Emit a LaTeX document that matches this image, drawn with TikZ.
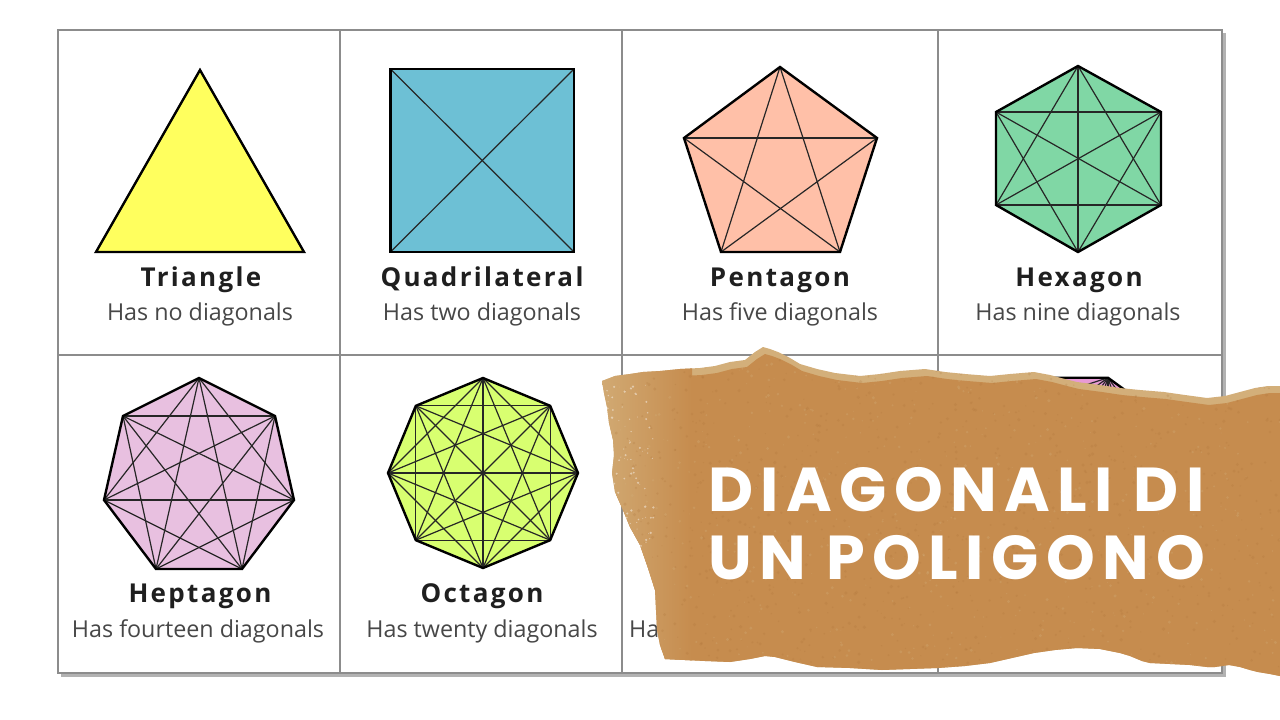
\documentclass[tikz,border=0pt]{standalone}
\usepackage{fontspec}
\setmainfont{Open Sans}
\newfontfamily\ttlfont[LetterSpace=9]{Open Sans}
\newfontfamily\bannerfont[LetterSpace=12]{Poppins}
\definecolor{ctri}{HTML}{FFFF5E}
\definecolor{cquad}{HTML}{6DC0D5}
\definecolor{cpent}{HTML}{FFC0A8}
\definecolor{chex}{HTML}{80D7A5}
\definecolor{chept}{HTML}{E8C0E0}
\definecolor{coct}{HTML}{D8FF70}
\definecolor{cdec}{HTML}{E89AD6}
\definecolor{paper}{HTML}{C68C4E}
\definecolor{paperlight}{HTML}{D3AF7A}
\definecolor{paperdark}{HTML}{A86E35}
\newcommand{\polydiag}[2]{%
  \foreach \ii in {1,...,#2}{%
    \foreach \jj in {1,...,#2}{%
      \pgfmathtruncatemacro{\mydiff}{\jj-\ii}%
      \ifnum\mydiff>1 \ifnum\mydiff<\numexpr#2-1\relax
        \draw[diag] (#1\ii) -- (#1\jj);
      \fi\fi
    }}}
\newcommand{\paperpath}{(602,381) -- (615,376) -- (630,374) -- (643,372) -- (660,371) -- (680,369) -- (700,368) -- (715,366) -- (730,362) -- (745,360) -- (755,352) -- (763,347) -- (770,349) -- (778,352) -- (790,358) -- (800,364) -- (817,369) -- (835,373) -- (860,376) -- (880,374) -- (900,371) -- (925,369) -- (945,372) -- (965,374) -- (990,376) -- (1010,374) -- (1034,372) -- (1050,375) -- (1065,379) -- (1077,382) -- (1100,385) -- (1120,388) -- (1140,390) -- (1164,392) -- (1185,395) -- (1207,398) -- (1225,396) -- (1240,392) -- (1255,388) -- (1268,386) -- (1280,386) -- (1280,676) -- (1270,674) -- (1258,672) -- (1250,670) -- (1240,667) -- (1229,665) -- (1215,667) -- (1207,667) -- (1190,665) -- (1170,664) -- (1150,663) -- (1142,661) -- (1130,656) -- (1120,653) -- (1100,649) -- (1077,648) -- (1055,650) -- (1034,653) -- (1012,658) -- (990,663) -- (965,666) -- (938,668) -- (910,669) -- (882,670) -- (850,668) -- (817,667) -- (795,662) -- (775,657) -- (765,656) -- (750,659) -- (730,662) -- (705,661) -- (685,660) -- (665,659) -- (660,645) -- (657,630) -- (656,610) -- (655,590) -- (648,568) -- (640,545) -- (630,527) -- (623,510) -- (615,492) -- (612,473) -- (614,455) -- (613,440) -- (609,423) -- (607,407) -- (604,393) -- cycle}
\begin{document}
\begin{tikzpicture}[x=1pt,y=-1pt]
\tikzset{
 gridline/.style={draw=black!45, line width=1.2pt},
 shapeedge/.style={draw=black, line width=2.4pt, line join=miter},
 diag/.style={draw=black!85, line width=1.2pt},
 ttl/.style={anchor=base, text=black!88, font=\ttlfont\bfseries\fontsize{26}{30}\selectfont, inner sep=0pt},
 sub/.style={anchor=base, text=black!72, font=\fontsize{23.3}{28}\selectfont, inner sep=0pt},
 banner/.style={anchor=base west, text=white, font=\bannerfont\bfseries\fontsize{62}{70}\selectfont, inner sep=0pt},
}
\useasboundingbox (0,0) rectangle (1280,720);
\fill[white] (0,0) rectangle (1280,720);
% grid with shadow
\fill[black!30] (61,33) rectangle (1226,677);
\fill[white] (58,30) rectangle (1222,673);
\draw[gridline] (58,30) rectangle (1222,673);
\draw[gridline] (58,355) -- (1222,355);
\draw[gridline] (340,30) -- (340,673);
\draw[gridline] (622,30) -- (622,673);
\draw[gridline] (938,30) -- (938,673);

% triangle
\coordinate (t1) at (200,70);
\coordinate (t2) at (304,252);
\coordinate (t3) at (96,252);
\path[fill=ctri] (t1) -- (t2) -- (t3) -- cycle;
\draw[shapeedge] (t1) -- (t2) -- (t3) -- cycle;

% square
\coordinate (q1) at (390.5,69);
\coordinate (q2) at (574,69);
\coordinate (q3) at (574,252);
\coordinate (q4) at (390.5,252);
\path[fill=cquad] (q1) -- (q2) -- (q3) -- (q4) -- cycle;
\polydiag{q}{4}
\draw[shapeedge] (q1) -- (q2) -- (q3) -- (q4) -- cycle;

% pentagon
\coordinate (p1) at (780,67);
\coordinate (p2) at (877,138);
\coordinate (p3) at (840,252);
\coordinate (p4) at (721,252);
\coordinate (p5) at (684,138);
\path[fill=cpent] (p1) -- (p2) -- (p3) -- (p4) -- (p5) -- cycle;
\polydiag{p}{5}
\draw[shapeedge] (p1) -- (p2) -- (p3) -- (p4) -- (p5) -- cycle;

% hexagon
\coordinate (x1) at (1078,66);
\coordinate (x2) at (1161,112);
\coordinate (x3) at (1161,205);
\coordinate (x4) at (1078,252);
\coordinate (x5) at (996,205);
\coordinate (x6) at (996,112);
\path[fill=chex] (x1) -- (x2) -- (x3) -- (x4) -- (x5) -- (x6) -- cycle;
\polydiag{x}{6}
\draw[shapeedge] (x1) -- (x2) -- (x3) -- (x4) -- (x5) -- (x6) -- cycle;

% heptagon
\coordinate (s1) at (199,378);
\coordinate (s2) at (275,416);
\coordinate (s3) at (294,500);
\coordinate (s4) at (242,569);
\coordinate (s5) at (156,569);
\coordinate (s6) at (104,500);
\coordinate (s7) at (123,416);
\path[fill=chept] (s1) -- (s2) -- (s3) -- (s4) -- (s5) -- (s6) -- (s7) -- cycle;
\polydiag{s}{7}
\draw[shapeedge] (s1) -- (s2) -- (s3) -- (s4) -- (s5) -- (s6) -- (s7) -- cycle;

% octagon
\foreach \k in {1,...,8}{
  \coordinate (o\k) at ({483+95*cos(90-45*(\k-1))},{473-95*sin(90-45*(\k-1))});
}
\path[fill=coct] (o1) \foreach \k in {2,...,8}{ -- (o\k) } -- cycle;
\polydiag{o}{8}
\draw[shapeedge] (o1) \foreach \k in {2,...,8}{ -- (o\k) } -- cycle;

% decagon (mostly hidden)
\foreach \k in {1,...,10}{
  \coordinate (d\k) at ({1078+97*cos(108-36*(\k-1))},{470-97*sin(108-36*(\k-1))});
}
\path[fill=cdec] (d1) \foreach \k in {2,...,10}{ -- (d\k) } -- cycle;
\polydiag{d}{10}
\draw[shapeedge] (d1) \foreach \k in {2,...,10}{ -- (d\k) } -- cycle;

% labels
\node[ttl] (n1) at (201,286) {Triangle};
\node[sub] (m1) at (200,320) {Has no diagonals};
\node[ttl] (n2) at (482,286) {Quadrilateral};
\node[sub] (m2) at (482,320) {Has two diagonals};
\node[ttl] (n3) at (780,286) {Pentagon};
\node[sub] (m3) at (780,320) {Has five diagonals};
\node[ttl] (n4) at (1079,286) {Hexagon};
\node[sub] (m4) at (1078,320) {Has nine diagonals};
\node[ttl] (n5) at (200,602) {Heptagon};
\node[sub] (m5) at (198,637) {Has fourteen diagonals};
\node[ttl] (n6) at (482,602) {Octagon};
\node[sub] (m6) at (482,637) {Has twenty diagonals};
\node[sub, anchor=base west] (m7) at (629,637) {Ha};

% torn kraft paper
\fill[paperlight] \paperpath;
\begin{scope}
  \clip \paperpath;
  \fill[paper, shift={(2,7)}] \paperpath;
  \shade[left color=paperlight!85!paper, right color=paper, shift={(2,7)}] (598,340) rectangle (690,700);
  \fill[paper] (690,420) rectangle (1280,645);
  \pgfmathsetseed{7}
  \foreach \k in {1,...,1100}{
    \pgfmathsetmacro{\rx}{600+680*rnd}
    \pgfmathsetmacro{\ry}{345+335*rnd}
    \pgfmathsetmacro{\rs}{0.5+1.3*rnd}
    \fill[paperdark, opacity=0.2] (\rx,\ry) circle (\rs);
  }
  \foreach \k in {1,...,600}{
    \pgfmathsetmacro{\rx}{600+680*rnd}
    \pgfmathsetmacro{\ry}{345+335*rnd}
    \pgfmathsetmacro{\rs}{0.5+1.2*rnd}
    \fill[paperlight, opacity=0.3] (\rx,\ry) circle (\rs);
  }
  \foreach \k in {1,...,120}{
    \pgfmathsetmacro{\rx}{604+50*rnd}
    \pgfmathsetmacro{\ry}{385+220*rnd}
    \pgfmathsetmacro{\rs}{0.4+0.9*rnd}
    \fill[white, opacity=0.45] (\rx,\ry) circle (\rs);
  }
\end{scope}
\node[banner] (b1) at (708,511) {DIAGONALI DI};
\node[banner] (b2) at (708,579) {UN POLIGONO};
\end{tikzpicture}
\end{document}
